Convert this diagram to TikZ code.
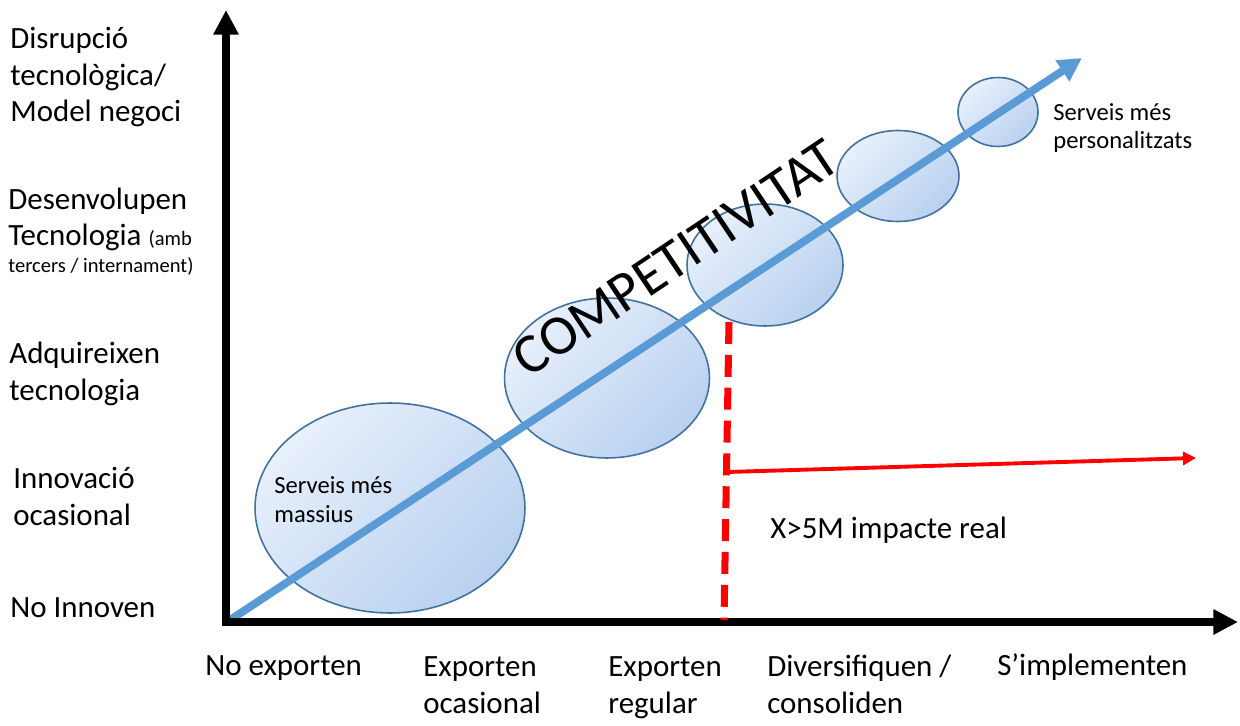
\documentclass[tikz,border=0pt]{standalone}
\usepackage{fontspec}
\setmainfont{Carlito}
\usepackage{xcolor}
\usepackage{tikz}
\usetikzlibrary{arrows.meta, shapes.geometric, positioning, calc}

\definecolor{compblue}{HTML}{5B9BD5}
\definecolor{bubline}{HTML}{41719C}
\definecolor{bubtop}{HTML}{E8F0FB}
\definecolor{bubbot}{HTML}{B8D1F0}

\begin{document}
\begin{tikzpicture}[
        x=0.02cm, y=-0.02cm, % one unit = one pixel of the sketch
        axis/.style={line width=4.7pt, line join=miter,
                     {Triangle[length=14pt, width=13.6pt]}-{Triangle[length=14pt, width=13.6pt]}},
        bubble/.style={ellipse, draw=bubline, line width=0.9pt, inner sep=0pt,
                       top color=bubtop, bottom color=bubbot, shading angle=45},
        growth/.style={draw=compblue, line width=4.5pt, -{Triangle[length=13.4pt, width=13.6pt]}},
        level/.style={font=\fontsize{17.6}{20.8}\selectfont, align=left, inner sep=0pt, anchor=base west},
        service/.style={font=\fontsize{14}{16.4}\selectfont, align=left, inner sep=0pt, anchor=base west},
        threshold/.style={draw=red, line width=4pt, dash pattern=on 12.5pt off 6.2pt},
        impact/.style={draw=red, line width=2.2pt, -{Triangle[length=7.4pt, width=7.4pt]}}
      ]

      \useasboundingbox (0,0) rectangle (1240,726);

      % --- Bubbles along the growth line ---
      \node (bub_noexp) [bubble, minimum width=5.4cm, minimum height=4.2cm] at (390,508) {};
      \node (bub_occ) [bubble, minimum width=4.1cm, minimum height=3.2cm] at (607,378) {};
      \node (bub_reg) [bubble, minimum width=3.12cm, minimum height=2.44cm] at (765,265) {};
      \node (bub_div) [bubble, minimum width=2.44cm, minimum height=1.82cm] at (898,176) {};
      \node (bub_impl) [bubble, minimum width=1.6cm, minimum height=1.38cm] at (998,112) {};

      % Growth arrow and its title
      \coordinate (origin) at (226,622);
      \coordinate (grow_start) at (230,620);
      \coordinate (grow_end) at (1082,58);
      \draw [growth] (grow_start) -- (grow_end);
      \node (comp) [rotate=33.8, inner sep=0pt, font=\fontsize{32}{32}\selectfont] at (676,258) {COMPETITIVITAT};

      % --- Axes ---
      \coordinate (y_end) at (226,10);
      \coordinate (x_end) at (1238,622);
      \draw [axis] (y_end) -- (origin) -- (x_end);

      % Innovation levels (placed at the baseline of their last line)
      \node (lv_disr) [level] at (10,122) {Disrupció\\tecnològica/\\Model negoci};
      \node (lv_dev) [level] at (8,272) {Desenvolupen\\Tecnologia {\fontsize{11.7}{14}\selectfont (amb}\\[-6pt]
                                         {\fontsize{11.7}{14}\selectfont tercers / internament)}};
      \node (lv_acq) [level] at (9,400) {Adquireixen\\tecnologia};
      \node (lv_occ) [level] at (13,525) {Innovació\\ocasional};
      \node (lv_none) [level] at (10,617) {No Innoven};

      % Export levels
      \node (ex_none) [level] at (205,675) {No exporten};
      \node (ex_occ) [level] at (423,713) {Exporten\\ocasional};
      \node (ex_reg) [level] at (608,713) {Exporten\\regular};
      \node (ex_div) [level] at (767,713) {Diversifiquen /\\consoliden};
      \node (ex_impl) [level] at (997,675) {S’implementen};

      % Service notes
      \node (srv_mass) [service] at (274,522) {Serveis més\\massius};
      \node (srv_pers) [service] at (1053,149) {Serveis més\\personalitzats};

      % --- Threshold of real impact ---
      \coordinate (cut_top) at (729,322);
      \coordinate (cut_bot) at (724,620);
      \draw [threshold] (cut_top) -- (cut_bot);
      \coordinate (imp_start) at (727,472);
      \coordinate (imp_end) at (1196,458);
      \draw [impact] (imp_start) -- (imp_end);
      \node (imp_txt) [level] at (770,538) {X>5M impacte real};

    \end{tikzpicture}
\end{document}
